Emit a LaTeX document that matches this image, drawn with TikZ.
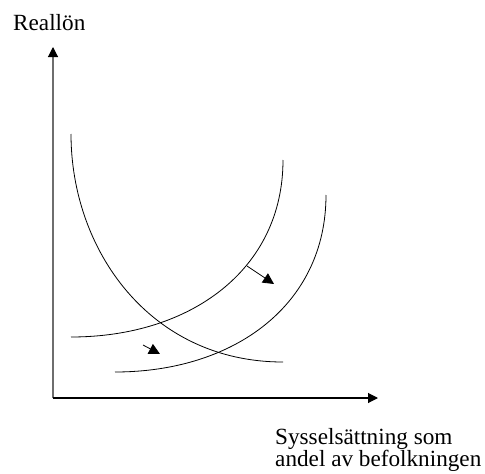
\documentclass[tikz,border=0pt]{standalone}
\usepackage{fontspec}
\setmainfont{Liberation Serif}
\usetikzlibrary{arrows.meta}
\definecolor{axisgray}{RGB}{110,110,110}
\tikzset{
  axis/.style={line width=1.1pt,-{Triangle[length=10pt,width=10pt,fill=black,color=black]}},
  curve/.style={line width=0.8pt},
  shiftarrow/.style={line width=0.8pt,-{Triangle[length=11pt,width=11pt]}},
  lbl/.style={font=\fontsize{23.2}{25}\selectfont,inner sep=0pt,anchor=base west}
}

\begin{document}
\begin{tikzpicture}[x=1pt,y=-1pt]
  \useasboundingbox (0,0) rectangle (485,474);

  % axlar
  \coordinate (O) at (53,398);
  \coordinate (Ytop) at (53,47);
  \coordinate (Xend) at (378,398);
  \draw[axis,axisgray] (O) -- (Ytop);
  \draw[axis] (O) -- (Xend);

  % efterfraagan
  \coordinate (D0) at (71,134);
  \coordinate (D1) at (283,362);
  \draw[curve] (D0) .. controls (71,250) and (150,362) .. (D1);

  % utbud, foere och efter
  \coordinate (S0) at (71,337);
  \coordinate (S1) at (283,160);
  \draw[curve] (S0) .. controls (190,337) and (283,270) .. (S1);
  \coordinate (T0) at (115,372);
  \coordinate (T1) at (326,195);
  \draw[curve] (T0) .. controls (234,372) and (326,305) .. (T1);

  % skift
  \coordinate (A0) at (247,266);
  \coordinate (A1) at (274,284);
  \draw[shiftarrow] (A0) -- (A1);
  \coordinate (B0) at (143,345);
  \coordinate (B1) at (160,354);
  \draw[shiftarrow] (B0) -- (B1);

  % text
  \node[lbl] (ylab) at (13,30) {Reallön};
  \node[lbl] (xlab) at (275,444) {Sysselsättning som};
  \node[lbl] (xlabb) at (275,466) {andel av befolkningen};
\end{tikzpicture}
\end{document}
